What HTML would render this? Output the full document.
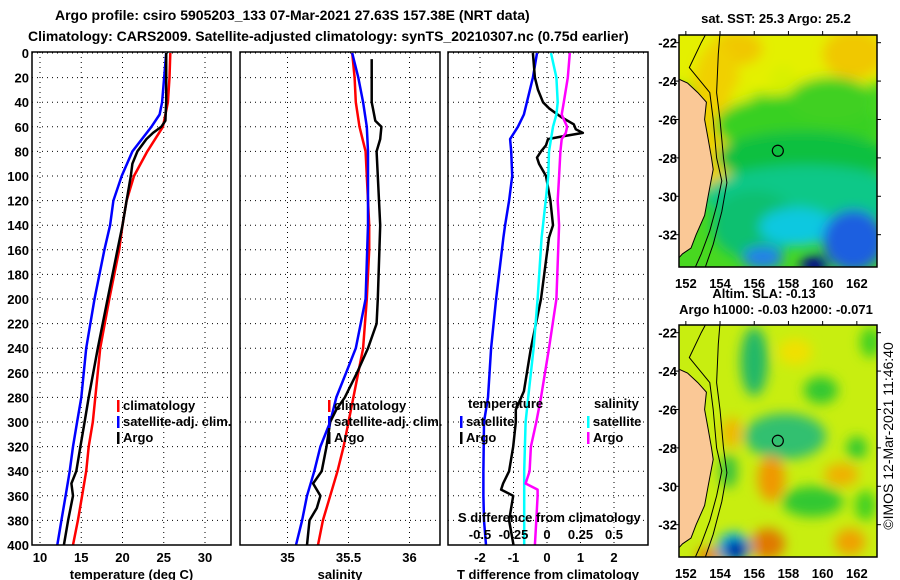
<!DOCTYPE html>
<html><head><meta charset="utf-8">
<style>
body{margin:0;background:#fff;}
svg{display:block;font-family:"Liberation Sans",sans-serif;font-weight:bold;}
</style></head>
<body>
<svg id="chart" width="900" height="580" viewBox="0 0 900 580" xmlns="http://www.w3.org/2000/svg">
<defs>
<filter id="blur1" x="-20%" y="-20%" width="140%" height="140%"><feGaussianBlur stdDeviation="6"/></filter>
<clipPath id="clipMap1"><rect x="679" y="35" width="198" height="232"/></clipPath>
<clipPath id="clipMap2"><rect x="679" y="325" width="198" height="232"/></clipPath>
</defs>
<text x="55" y="20" font-size="14">Argo profile: csiro 5905203_133 07-Mar-2021 27.63S 157.38E (NRT data)</text>
<text x="28" y="41" font-size="14">Climatology: CARS2009. Satellite-adjusted climatology: synTS_20210307.nc (0.75d earlier)</text>
<g id="panels"></g>
<g id="maps"></g>
</svg>
<script>
// ---------- data ----------
const depthTicks = [0,20,40,60,80,100,120,140,160,180,200,220,240,260,280,300,320,340,360,380,400];
const tempTicks = [10,15,20,25,30];
const salTicks = [35,35.5,36];
const salTickLabels = ['35','35.5','36'];
const tdiffTicks = [-2,-1,0,1,2];
const sdiffTicks = [-0.5,-0.25,0,0.25,0.5];
const sdiffTickLabels = ['-0.5','-0.25','0','0.25','0.5'];

const climTempDepth = [0,20,40,60,80,100,120,140,160,200,240,280,300,320,340,360,380,400];
const climTemp = [25.8,25.7,25.5,24.9,23.0,21.4,20.5,20.0,19.6,18.4,17.3,16.7,16.4,15.9,15.6,15.1,14.6,14.0];
const satTempDepth = [0,40,50,60,80,100,120,140,160,200,240,280,300,320,340,360,380,400];
const satTemp = [25.3,24.8,24.5,23.5,21.2,19.9,18.9,18.5,17.8,16.6,15.6,15.0,14.5,14.0,13.6,13.1,12.6,12.1];
const argoTempDepth = [0,40,55,60,65,70,80,90,100,120,140,160,200,240,280,300,320,340,350,360,380,400];
const argoTemp = [25.3,25.3,25.2,24.7,23.7,22.9,21.8,21.2,21.0,20.5,20.0,19.4,18.2,17.0,15.9,15.4,14.9,14.4,13.8,14.0,13.4,12.9];

const climSalDepth = [0,20,40,60,80,100,140,160,200,240,280,300,320,340,360,380,400];
const climSal = [35.53,35.55,35.56,35.59,35.64,35.65,35.67,35.67,35.65,35.62,35.54,35.50,35.46,35.41,35.35,35.29,35.25];
const satSalDepth = [0,20,40,60,80,140,200,240,260,280,300,320,340,360,380,400];
const satSal = [35.53,35.58,35.62,35.65,35.66,35.66,35.64,35.56,35.48,35.40,35.35,35.27,35.22,35.16,35.12,35.07];
const argoSalDepth = [5,40,45,55,60,70,80,100,120,140,200,220,240,260,270,280,290,300,320,340,350,360,370,380,400];
const argoSal = [35.69,35.69,35.70,35.72,35.77,35.76,35.73,35.74,35.75,35.76,35.74,35.73,35.66,35.57,35.52,35.47,35.40,35.35,35.32,35.28,35.21,35.27,35.24,35.18,35.16];

const satTdiffDepth = [0,20,40,50,60,70,80,100,120,140,150,200,240,280,300,340,360,380,400];
const satTdiff = [-0.3,-0.42,-0.6,-0.69,-0.87,-1.1,-1.07,-1.04,-1.13,-1.25,-1.3,-1.52,-1.67,-1.76,-1.88,-1.9,-1.9,-1.88,-1.82];
const argoTdiffDepth = [0,20,30,40,45,52,58,62,65,68,70,75,80,85,90,100,120,140,150,200,240,260,275,290,300,320,340,350,355,360,380,400];
const argoTdiff = [-0.42,-0.36,-0.27,-0.12,0.06,0.42,0.8,0.86,1.07,0.42,0.03,-0.03,-0.18,-0.3,-0.24,-0.03,0.1,0.18,0.06,-0.18,-0.48,-0.6,-0.69,-0.93,-0.93,-1.01,-1.13,-1.31,-1.37,-1.01,-1.13,-1.0];
const satSdiffDepth = [0,20,40,50,60,80,100,120,140,150,200,240,280,300,320,340,400];
const satSdiff = [0.03,0.07,0.08,0.07,0.045,0.015,0.01,-0.01,-0.03,-0.04,-0.07,-0.1,-0.14,-0.16,-0.165,-0.17,-0.17];
const argoSdiffDepth = [0,20,40,50,55,60,65,70,80,100,120,140,200,240,270,280,300,320,340,350,355,360,380,400];
const argoSdiff = [0.17,0.155,0.125,0.11,0.13,0.15,0.14,0.11,0.1,0.09,0.08,0.09,0.07,0.015,-0.03,-0.045,-0.08,-0.12,-0.13,-0.16,-0.07,-0.07,-0.08,-0.09];

// ---------- helpers ----------
const NS = 'http://www.w3.org/2000/svg';
const panelsG = document.getElementById('panels');
const TOP = 52, BOT = 545;
function yDepth(d){ return TOP + 1 + d*(BOT-TOP-1)/400; }
function mk(tag, attrs, parent){
  const e = document.createElementNS(NS, tag);
  for (const k in attrs) e.setAttribute(k, attrs[k]);
  (parent||panelsG).appendChild(e);
  return e;
}
function txt(x,y,s,anchor,size,parent){
  const t = mk('text',{x:x,y:y,'text-anchor':anchor||'start','font-size':size||13},parent);
  t.textContent = s;
  return t;
}
function linear(v0,v1,p0,p1){ return v => p0 + (v-v0)*(p1-p0)/(v1-v0); }

function panel(name, x0, x1, xScale, xticks, xlabels, title){
  const g = mk('g',{});
  
  
  xticks.forEach(v=>{
    const x = xScale(v);
    const l = mk('line',{x1:x,x2:x,y1:TOP,y2:BOT,stroke:'#000','stroke-width':1,'stroke-dasharray':'1 4'},g);
    
    
  });
  depthTicks.forEach(d=>{
    const y = yDepth(d);
    const l = mk('line',{x1:x0,x2:x1,y1:y,y2:y,stroke:'#000','stroke-width':1,'stroke-dasharray':'1 4'},g);
    
    
  });
  if (xlabels) xticks.forEach((v,i)=>{
    const t = txt(xScale(v), 562, xlabels[i], 'middle', 13, g);
    
    
  });
  const tt = txt((x0+x1)/2, 579, title, 'middle', 13, g);
  
  
  return g;
}
function series(g, name, depths, vals, xScale, color){
  const pts = depths.map((d,i)=> xScale(vals[i]).toFixed(1)+','+yDepth(d).toFixed(1)).join(' ');
  const p = mk('polyline',{points:pts,fill:'none',stroke:color,'stroke-width':2.5,'stroke-linejoin':'round'},g);
  
  
}
function box(g,x0,x1){
  const r = mk('rect',{x:x0,y:TOP,width:x1-x0,height:BOT-TOP,fill:'none',stroke:'#000','stroke-width':1.5},g);
  
  
}
function legend(g, x, y, entries){
  entries.forEach((e,i)=>{
    const yy = y + i*16;
    const b = mk('rect',{x:x,y:yy-10,width:2.5,height:12,fill:e[1]},g);
    
    
    const t = txt(x+6, yy, e[0], 'start', 13, g);
    
    
  });
}

// ---------- panel 1 : temperature ----------
const xT = linear(10,30,40,205);
const g1 = panel('temperature-panel', 32, 231, xT, tempTicks, tempTicks.map(String), 'temperature (deg C)');
depthTicks.forEach(d=>{
  const t = txt(29, yDepth(d)+5, String(d), 'end', 13, g1);
  
  
});
series(g1,'climatology-temperature-line',climTempDepth,climTemp,xT,'#ff0000');
series(g1,'satellite-temperature-line',satTempDepth,satTemp,xT,'#0000ff');
series(g1,'argo-temperature-line',argoTempDepth,argoTemp,xT,'#000000');
box(g1,32,231);
legend(g1,117,410,[['climatology','#ff0000'],['satellite-adj. clim.','#0000ff'],['Argo','#000000']]);

// ---------- panel 2 : salinity ----------
const xS = linear(35,36,287.5,409.5);
const g2 = panel('salinity-panel', 240, 440, xS, salTicks, salTickLabels, 'salinity');
series(g2,'climatology-salinity-line',climSalDepth,climSal,xS,'#ff0000');
series(g2,'satellite-salinity-line',satSalDepth,satSal,xS,'#0000ff');
series(g2,'argo-salinity-line',argoSalDepth,argoSal,xS,'#000000');
box(g2,240,440);
legend(g2,328,410,[['climatology','#ff0000'],['satellite-adj. clim.','#0000ff'],['Argo','#000000']]);

// ---------- panel 3 : differences ----------
const xTd = linear(0,1,547,580.5);
const xSd = linear(0,0.25,547,580.5);
const g3 = panel('difference-panel', 448, 648, xTd, tdiffTicks, tdiffTicks.map(String), 'T difference from climatology');
series(g3,'satellite-t-diff-line',satTdiffDepth,satTdiff,xTd,'#0000ff');
series(g3,'argo-t-diff-line',argoTdiffDepth,argoTdiff,xTd,'#000000');
series(g3,'satellite-s-diff-line',satSdiffDepth,satSdiff,xSd,'#00ffff');
series(g3,'argo-s-diff-line',argoSdiffDepth,argoSdiff,xSd,'#ff00ff');
box(g3,448,648);
{ const t = txt(468,408,'temperature','start',13,g3);   }
{ const t = txt(594,408,'salinity','start',13,g3);   }
legend(g3,460,426,[['satellite','#0000ff'],['Argo','#000000']]);
legend(g3,587,426,[['satellite','#00ffff'],['Argo','#ff00ff']]);
{ const t = txt(458,522,'S difference from climatology','start',13,g3);   }
sdiffTicks.forEach((v,i)=>{
  const t = txt(xSd(v),539,sdiffTickLabels[i],'middle',13,g3);
  
  
});

// ---------- maps ----------
const mapsG = document.getElementById('maps');
function lonX(lon){ return 679 + (lon-151.6)*17.1; }
function latY(lat,off){ return off + (-21.6 - lat)*19.2; }
function drawMap(name, off, clipId, base, blobs){
  const g = mk('g',{},mapsG);
  
  
  const cg = mk('g',{'clip-path':'url(#'+clipId+')'},g);
  mk('rect',{x:679,y:off,width:198,height:232,fill:base},cg);
  const bg = mk('g',{filter:'url(#blur1)'},cg);
  blobs.forEach(b=>{
    mk('ellipse',{cx:lonX(b[0]),cy:latY(b[1],off),rx:b[2]*17.1,ry:b[3]*19.2,fill:b[4]},bg);
  });
  const land = [[151.6,-23.9],[152.1,-24.1],[152.7,-24.6],[153.2,-25.1],[153.1,-26],[153.3,-27],[153.5,-28],[153.6,-28.6],[153.3,-30],[153.1,-31],[152.6,-32],[152.3,-32.7],[151.8,-33],[151.6,-33.2]];
  const lp = land.map(p=>lonX(p[0]).toFixed(1)+','+latY(p[1],off).toFixed(1)).join(' ');
  const l = mk('polygon',{points:lp+' 670,'+(off+240)+' 670,'+(off+20),fill:'#fac896',stroke:'#000','stroke-width':1},cg);
  
  
  const c1 = [[153.2,-21.5],[152.9,-22],[152.2,-23.3],[153.4,-24.6],[153.6,-26],[153.8,-28],[154.1,-29.2],[153.8,-30.5],[153.4,-31.8],[152.9,-33],[152.5,-33.8]];
  const c2 = [[154.0,-21.5],[153.9,-22.6],[153.8,-24.6],[154,-26],[154.2,-28],[154.4,-29.3],[154.1,-30.8],[153.6,-32.5],[153.1,-33.8]];
  [c1,c2].forEach(c=>{
    const p = mk('polyline',{points:c.map(q=>lonX(q[0]).toFixed(1)+','+latY(q[1],off).toFixed(1)).join(' '),fill:'none',stroke:'#000','stroke-width':1},cg);
    
    
  });
  const ci = mk('circle',{cx:lonX(157.38),cy:latY(-27.63,off),r:5.5,fill:'none',stroke:'#000','stroke-width':1.2},g);
  
  
  const fr = mk('rect',{x:679,y:off,width:198,height:232,fill:'none',stroke:'#000','stroke-width':1.5},g);
  
  
  [152,154,156,158,160,162].forEach(lon=>{
    const x = lonX(lon);
    mk('line',{x1:x,x2:x,y1:off,y2:off-4,stroke:'#000'},g);
    const t = txt(x, off+253, String(lon), 'middle', 13, g);
    
    
  });
  [-22,-24,-26,-28,-30,-32].forEach(lat=>{
    const y = latY(lat,off);
    mk('line',{x1:877,x2:881,y1:y,y2:y,stroke:'#000'},g);
    mk('line',{x1:679,x2:675,y1:y,y2:y,stroke:'#000'},g);
    const t = txt(677,y+5,String(lat),'end',13,g);
     
  });
}
const sstBlobs = [
  [157,-22.5,9,2.2,'#e4f000'],[161.8,-22.6,1.8,1.3,'#f0c800'],[155,-22.3,1.5,0.9,'#f0c800'],
  [153.8,-26,1.6,4,'#f0d000'],[155.3,-27,1.0,3,'#e0f000'],
  [157.7,-24.6,0.9,1.4,'#d8f000'],
  [158.5,-26.3,4.8,1.6,'#38d020'],[160.5,-25,2.5,1.2,'#40d020'],
  [158.8,-28,5,1.4,'#10c040'],
  [159,-30,6,1.6,'#10c888'],[156,-31.5,2.5,1.8,'#10c070'],
  [158.5,-31.6,2.2,1.0,'#10c8e0'],
  [161.8,-32.3,1.8,1.6,'#1a5ee0'],[156.5,-33.2,1.2,0.6,'#2080e8'],
  [159.5,-33.6,0.8,0.5,'#000090']
];
drawMap('sst-map',35,'clipMap1','#48d820',sstBlobs);
const slaBlobs = [
  [156,-23.5,0.8,1.8,'#20b868'],[157.8,-27.1,1.8,0.8,'#20c8c0'],[157.8,-27.4,2.4,1.2,'#30c070'],
  [159.9,-25,1.0,0.7,'#30c830'],[159.4,-30.8,1.8,0.8,'#30c830'],[162,-28,0.6,0.6,'#30c830'],
  [154.5,-29.2,0.5,0.9,'#30c040'],[162.8,-22.5,0.6,0.8,'#40d020'],[162.5,-31,0.6,0.8,'#40d020'],
  [154.7,-27.2,0.6,0.8,'#f0b800'],[157,-29.6,0.8,1.2,'#f09800'],[161.1,-29.4,1.0,0.6,'#f0b000'],
  [156.8,-33,1.0,0.8,'#e07800'],[161.6,-32.9,0.9,0.7,'#f0a000'],[153.4,-33.6,0.8,0.4,'#e88000'],
  [158.4,-23,1.0,0.7,'#f0e000'],
  [154.8,-33.2,1.0,0.8,'#10b8f0'],[154.9,-33.3,0.7,0.55,'#0010a0']
];
drawMap('sla-map',325,'clipMap2','#c8ee10',slaBlobs);
{ const t = txt(776,23,'sat. SST: 25.3 Argo: 25.2','middle',13,mapsG);   }
{ const t = txt(764,298,'Altim. SLA: -0.13','middle',13,mapsG);   }
{ const t = txt(776,314,'Argo h1000: -0.03 h2000: -0.071','middle',13,mapsG);   }
{ const t = txt(0,0,'©IMOS 12-Mar-2021 11:46:40','middle',14,mapsG); t.setAttribute('transform','translate(893,436) rotate(-90)'); t.setAttribute('font-weight','normal');   }
</script>
</body></html>
